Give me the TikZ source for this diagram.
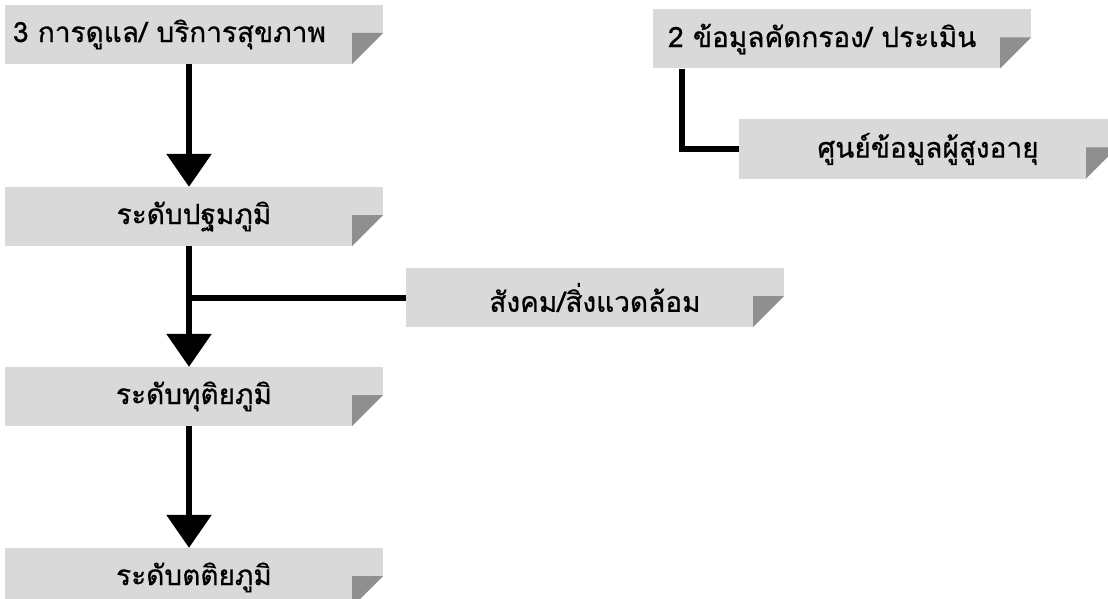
\documentclass[tikz,border=0pt]{standalone}
\usepackage{fontspec}
\newfontfamily\thaifont[Script=Thai,FakeBold=0.7]{Loma}
\usetikzlibrary{arrows.meta}

\definecolor{boxlight}{RGB}{217,217,217}
\definecolor{foldgray}{RGB}{143,143,143}

\tikzset{
  foldbox/.style={
    fill=boxlight, minimum width=378pt, minimum height=59pt, inner sep=0pt,
    font=\thaifont\fontsize{28}{34}\selectfont, text=black,
    path picture={
      \fill[white] ([yshift=31pt]path picture bounding box.south east)
        -- ([yshift=-1pt,xshift=1pt]path picture bounding box.south east)
        -- ([xshift=-31pt]path picture bounding box.south east) -- cycle;
      \fill[foldgray] ([xshift=-31pt,yshift=31pt]path picture bounding box.south east)
        -- ([yshift=31pt]path picture bounding box.south east)
        -- ([xshift=-31pt]path picture bounding box.south east) -- cycle;
    }},
  leftbox/.style={foldbox, text width=#1, align=left},
  link/.style={line width=6pt, draw=black},
  flow/.style={link, -{Triangle[width=44pt,length=33pt]}}
}

\begin{document}
\begin{tikzpicture}[x=1pt,y=-1pt]
  \useasboundingbox (0,0) rectangle (1108,599);
  \clip (0,0) rectangle (1108,599);

  % care chain on the left
  \node[leftbox=362pt] (care) at (194,34.5) {3 การดูแล/ บริการสุขภาพ};
  \node[foldbox] (primary) at (194,216.5) {ระดับปฐมภูมิ};
  \node[foldbox] (social) at (595,297.5) {สังคม/สิ่งแวดล้อม};
  \node[foldbox] (secondary) at (194,396.5) {ระดับทุติยภูมิ};
  \node[foldbox] (tertiary) at (194,577.5) {ระดับตติยภูมิ};

  % screening data on the right
  \node[leftbox=348pt] (screen) at (842,39) {2 ข้อมูลคัดกรอง/ ประเมิน};
  \node[foldbox] (center) at (928,149) {ศูนย์ข้อมูลผู้สูงอายุ};

  % trunk line runs a little left of the box centres
  \coordinate (trunk) at ([xshift=-5pt]primary.south);

  \draw[flow] ([xshift=-5pt]care.south) -- ([xshift=-5pt]primary.north);
  \draw[flow] ([xshift=-5pt]primary.south) -- ([xshift=-5pt]secondary.north);
  \draw[link] (social.west) -- (social.west -| trunk);
  \draw[flow] ([xshift=-5pt]secondary.south) -- ([xshift=-5pt]tertiary.north);

  \draw[link] ([xshift=29pt]screen.south west) |- (center.west);
\end{tikzpicture}
\end{document}
